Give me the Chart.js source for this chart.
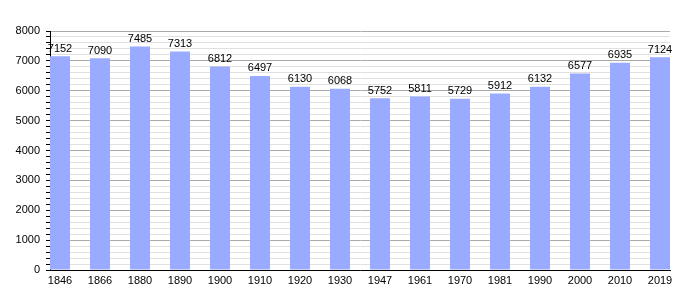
<!DOCTYPE html>
<html>
<head>
<meta charset="utf-8">
<script src="https://cdn.jsdelivr.net/npm/chart.js@4/dist/chart.umd.min.js"></script>
<style>
  html, body { margin: 0; padding: 0; background: #fff; }
  #wrap { width: 700px; height: 300px; }
</style>
</head>
<body>
<div id="wrap"><canvas id="popChart" width="700" height="300"></canvas></div>
<script>
const years = ['1846', '1866', '1880', '1890', '1900', '1910', '1920', '1930', '1947', '1961', '1970', '1981', '1990', '2000', '2010', '2019'];
const population = [7152, 7090, 7485, 7313, 6812, 6497, 6130, 6068, 5752, 5811, 5729, 5912, 6132, 6577, 6935, 7124];

const points = population.map((v, i) => ({ x: i, y: v }));

const barLabels = {
    id: 'barLabels',
    afterDatasetsDraw(chart) {
        const { ctx } = chart;
        const meta = chart.getDatasetMeta(0);
        ctx.save();
        ctx.font = '11px "Liberation Sans", Arial, sans-serif';
        ctx.fillStyle = '#000';
        ctx.textAlign = 'center';
        ctx.textBaseline = 'bottom';
        meta.data.forEach((bar, i) => {
            ctx.fillText(population[i], bar.x, bar.y - 2);
        });
        ctx.restore();
    }
};

new Chart(document.getElementById('popChart'), {
    type: 'bar',
    plugins: [barLabels],
    data: {
        datasets: [{
            data: points,
            backgroundColor: '#99aaff',
            barPercentage: 0.5,
            categoryPercentage: 1,
        }]
    },
    options: {
        responsive: false,
        animation: false,
        layout: { padding: { left: 0, right: 30, top: 31, bottom: 0 } },
        plugins: {
            legend: { display: false },
            tooltip: { enabled: false },
        },
        scales: {
            x: {
                type: 'linear',
                min: -0.25,
                max: 15.25,
                offset: false,
                grid: { display: false, drawTicks: false },
                border: { color: '#000', width: 1 },
                ticks: {
                    stepSize: 1,
                    includeBounds: false,
                    autoSkip: false,
                    color: '#000',
                    padding: 4,
                    font: { size: 11, family: '"Liberation Sans", Arial, sans-serif' },
                    maxRotation: 0,
                    callback: (v) => years[v] ?? '',
                },
                afterFit(scale) { scale.height = 30; },
            },
            y: {
                min: 0,
                max: 8000,
                grid: {
                    color: (c) => c.tick && c.tick.value % 1000 === 0 ? '#aaaaaa' : '#e0e0e0',
                    tickColor: '#000',
                    tickLength: 4,
                },
                border: { color: '#000', width: 1 },
                ticks: {
                    stepSize: 200,
                    autoSkip: false,
                    color: '#000',
                    padding: 6,
                    font: { size: 11, family: '"Liberation Sans", Arial, sans-serif' },
                    callback: (v) => v % 1000 === 0 ? v : '',
                },
                afterFit(scale) { scale.width = 50; },
            }
        }
    }
});
</script>
</body>
</html>
